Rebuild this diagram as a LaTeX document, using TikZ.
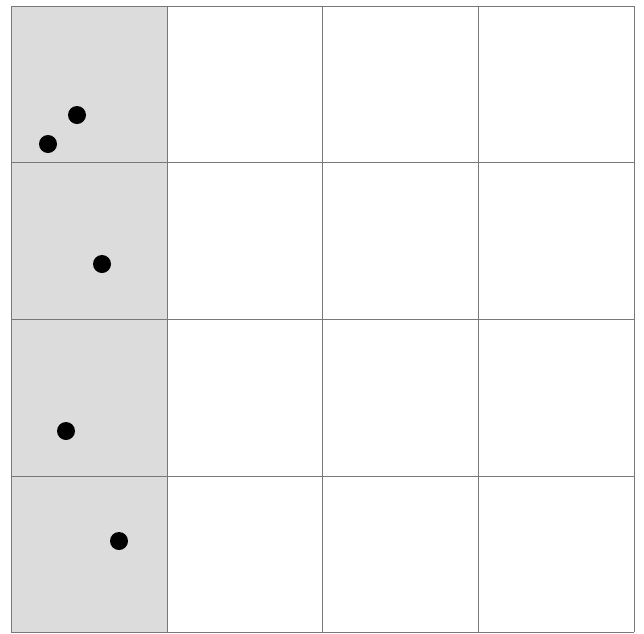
\documentclass[tikz,border=0pt]{standalone}
\definecolor{cellcol}{RGB}{220,220,220}
\definecolor{linecol}{RGB}{120,120,120}
\tikzset{
  gridline/.style = {draw=linecol, line width=0.9pt},
  dot/.style      = {circle, fill=black, inner sep=0pt, minimum size=18pt},
}
\begin{document}
\begin{tikzpicture}[x=1pt, y=-1pt]
  \useasboundingbox (0,0) rectangle (644,633);

  % shaded first column
  \fill[cellcol] (11,6) rectangle (167,632);

  % 4 x 4 grid
  \foreach \x in {11,167,322,478,634} \draw[gridline] (\x,6) -- (\x,632);
  \foreach \y in {6,162,319,476,632} \draw[gridline] (11,\y) -- (634,\y);

  % points
  \node[dot] (p1) at (77,115) {};
  \node[dot] (p2) at (48,144) {};
  \node[dot] (p3) at (102,264) {};
  \node[dot] (p4) at (66,431) {};
  \node[dot] (p5) at (119,541) {};
\end{tikzpicture}
\end{document}
